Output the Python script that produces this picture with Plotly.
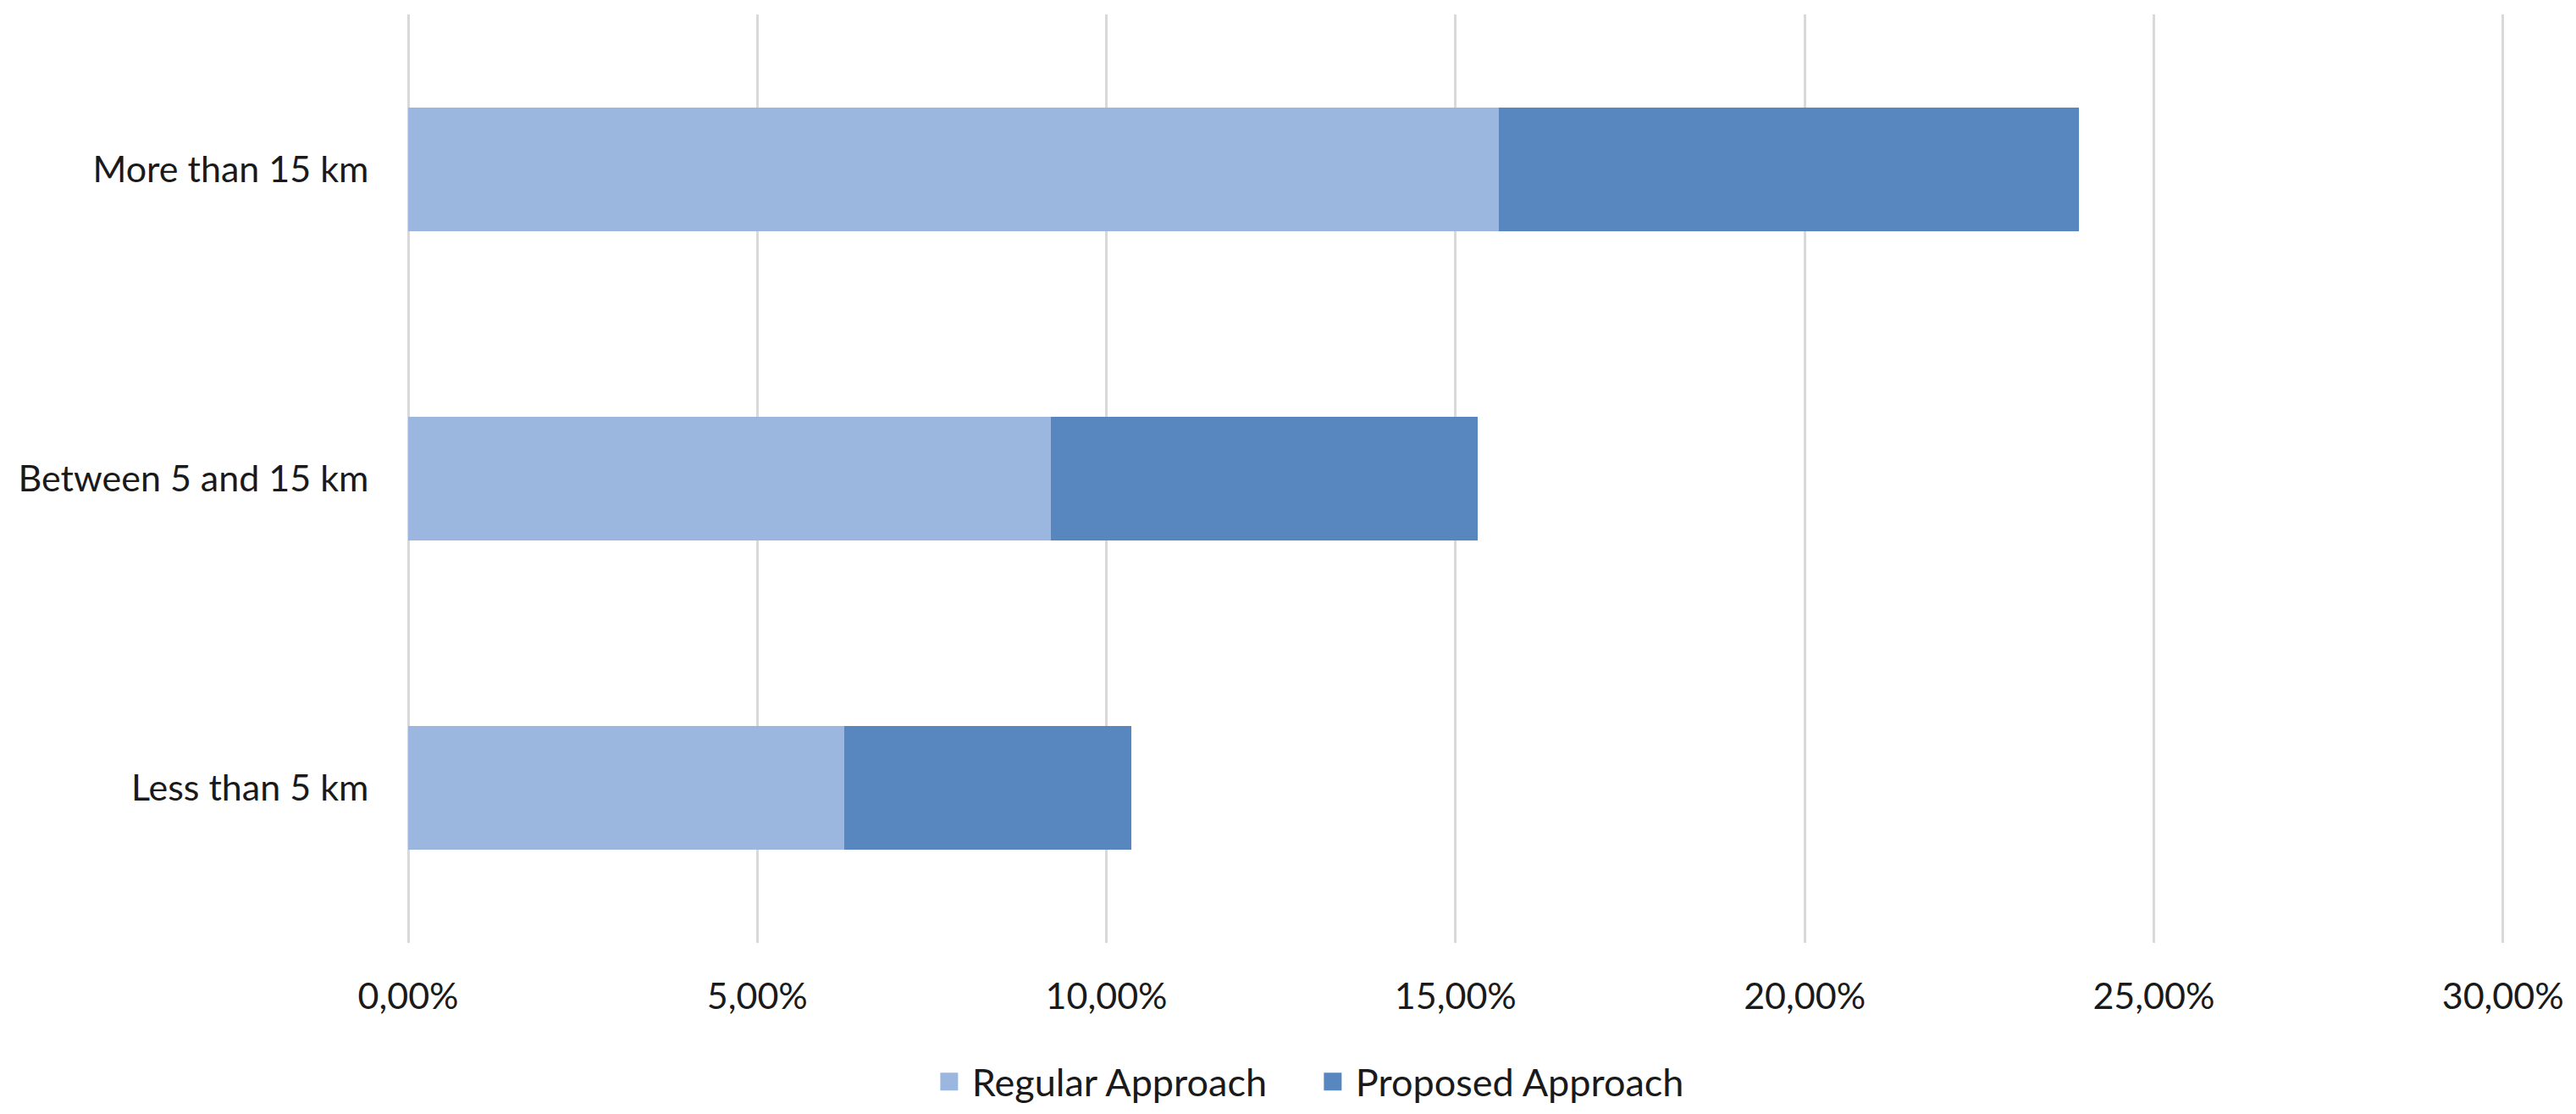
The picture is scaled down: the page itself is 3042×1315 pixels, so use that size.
import plotly.graph_objects as go

categories = ["Less than 5 km", "Between 5 and 15 km", "More than 15 km"]
regular = [0.0625, 0.0921, 0.1562]
proposed = [0.0411, 0.0611, 0.0831]
x_ticks = [0, 0.05, 0.10, 0.15, 0.20, 0.25, 0.30]
series_names = ["Regular Approach", "Proposed Approach"]
series_colors = ["#9BB7E0", "#5787BE"]

font_family = "Lato, 'Open Sans', sans-serif"
text_color = "#1a1a1a"

fig = go.Figure()
for name, vals, col in zip(series_names, [regular, proposed], series_colors):
    fig.add_trace(go.Bar(y=categories, x=vals, orientation="h", name=name,
                         marker=dict(color=col, line=dict(width=0)),
                         showlegend=False, legendgroup=name))
# legend proxies (larger square swatches than the bar default)
for name, col in zip(series_names, series_colors):
    fig.add_trace(go.Scatter(x=[None], y=[None], mode="markers", name=name,
                             legendgroup=name, showlegend=True,
                             marker=dict(symbol="square", size=16, color=col,
                                         line=dict(width=5, color=col))))

fig.update_layout(
    width=3042, height=1315,
    barmode="stack", bargap=0.6,
    paper_bgcolor="white", plot_bgcolor="white",
    separators=",.",
    margin=dict(l=482, r=83, t=17, b=202, autoexpand=False),
    font=dict(family=font_family, size=43, color=text_color),
    showlegend=True,
    legend=dict(orientation="h", x=0.4299, y=-0.1496, xanchor="center", yanchor="middle",
                font=dict(size=45, color=text_color), traceorder="normal",
                itemsizing="trace", itemwidth=44,
                entrywidth=394, entrywidthmode="pixels",
                bgcolor="rgba(0,0,0,0)"),
    xaxis=dict(range=[0, 0.3004], tickvals=x_ticks, tickformat=".2%",
               showgrid=True, gridcolor="#D9D9D9", gridwidth=3,
               zeroline=True, zerolinecolor="#D9D9D9", zerolinewidth=3,
               showline=False, automargin=False,
               ticks="outside", ticklen=25, tickcolor="rgba(0,0,0,0)",
               tickfont=dict(size=43, color=text_color), fixedrange=True),
    yaxis=dict(showgrid=False, zeroline=False, showline=False, automargin=False,
               ticks="outside", ticklen=37, tickcolor="rgba(0,0,0,0)",
               tickfont=dict(size=43, color=text_color), fixedrange=True),
)

fig.write_html("out.html", config={"displayModeBar": False},
               post_script="document.body.style.margin='0';")
